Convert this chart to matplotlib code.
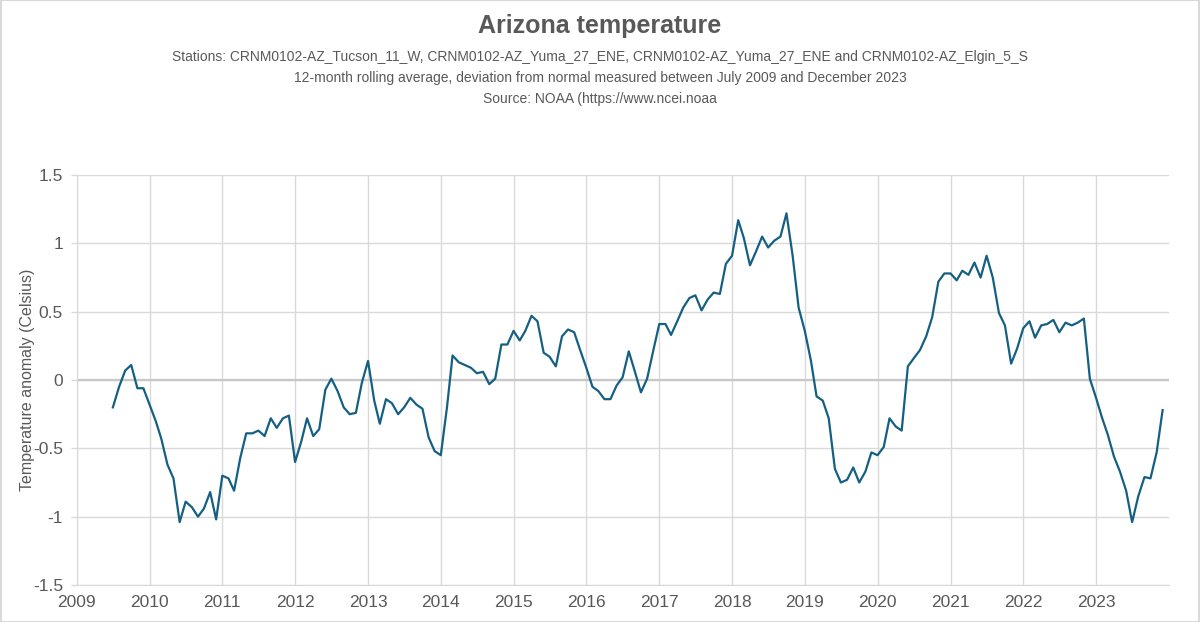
#!/usr/bin/env python3
"""
Arizona temperature: 12-month rolling average anomaly (NOAA CRN stations)
"""
import matplotlib
matplotlib.use('Agg')
import matplotlib.pyplot as plt
import matplotlib.dates as mdates
import pandas as pd
from matplotlib.patches import Rectangle

# monthly values, Jul 2009 .. Dec 2023
anom_2009 = [-0.20, -0.05, 0.07, 0.11, -0.06, -0.06]
anom_2010 = [-0.18, -0.30, -0.43, -0.62, -0.72, -1.04, -0.89, -0.93, -1.00, -0.94, -0.82, -1.02]
anom_2011 = [-0.70, -0.72, -0.81, -0.57, -0.39, -0.39, -0.37, -0.41, -0.28, -0.35, -0.28, -0.26]
anom_2012 = [-0.60, -0.45, -0.28, -0.41, -0.36, -0.07, 0.01, -0.08, -0.20, -0.25, -0.24, -0.02]
anom_2013 = [0.14, -0.15, -0.32, -0.14, -0.17, -0.25, -0.20, -0.13, -0.18, -0.21, -0.42, -0.52]
anom_2014 = [-0.55, -0.20, 0.18, 0.13, 0.11, 0.09, 0.05, 0.06, -0.03, 0.01, 0.26, 0.26]
anom_2015 = [0.36, 0.29, 0.36, 0.47, 0.43, 0.20, 0.17, 0.10, 0.32, 0.37, 0.35, 0.22]
anom_2016 = [0.09, -0.05, -0.08, -0.14, -0.14, -0.04, 0.02, 0.21, 0.06, -0.09, 0.01, 0.21]
anom_2017 = [0.41, 0.41, 0.33, 0.43, 0.53, 0.60, 0.62, 0.51, 0.59, 0.64, 0.63, 0.85]
anom_2018 = [0.91, 1.17, 1.04, 0.84, 0.94, 1.05, 0.97, 1.02, 1.05, 1.22, 0.91, 0.53]
anom_2019 = [0.36, 0.14, -0.12, -0.15, -0.28, -0.65, -0.75, -0.73, -0.64, -0.75, -0.67, -0.53]
anom_2020 = [-0.55, -0.49, -0.28, -0.34, -0.37, 0.10, 0.16, 0.22, 0.32, 0.46, 0.72, 0.78]
anom_2021 = [0.78, 0.73, 0.80, 0.77, 0.86, 0.75, 0.91, 0.75, 0.49, 0.40, 0.12, 0.23]
anom_2022 = [0.38, 0.43, 0.31, 0.40, 0.41, 0.44, 0.35, 0.42, 0.40, 0.42, 0.45, 0.01]
anom_2023 = [-0.13, -0.28, -0.40, -0.56, -0.67, -0.81, -1.04, -0.85, -0.71, -0.72, -0.53, -0.22]

start_month = '2009-07-01'
year_labels = list(range(2009, 2024))
y_ticks = [-1.5, -1, -0.5, 0, 0.5, 1, 1.5]

title = 'Arizona temperature'
subtitle_lines = [
    'Stations: CRNM0102-AZ_Tucson_11_W, CRNM0102-AZ_Yuma_27_ENE, '
    'CRNM0102-AZ_Yuma_27_ENE and CRNM0102-AZ_Elgin_5_S',
    '12-month rolling average, deviation from normal measured between '
    'July 2009 and December 2023',
    'Source: NOAA (https://www.ncei.noaa',
]

values = (anom_2009 + anom_2010 + anom_2011 + anom_2012 + anom_2013 + anom_2014
          + anom_2015 + anom_2016 + anom_2017 + anom_2018 + anom_2019 + anom_2020
          + anom_2021 + anom_2022 + anom_2023)
dates = pd.date_range(start_month, periods=len(values), freq='MS')

TEXT = '#595959'
GRID = '#d9d9d9'
LINE = '#156082'

plt.rcParams['font.family'] = ['Liberation Sans', 'DejaVu Sans']

fig = plt.figure(figsize=(12, 6.22), dpi=100)
ax = fig.add_axes([0.064, 0.0595, 0.91, 0.659])

ax.plot(dates, values, color=LINE, linewidth=1.6, zorder=3)

ax.set_xlim(pd.Timestamp('2009-01-01'), pd.Timestamp('2024-01-01'))
ax.set_ylim(-1.5, 1.5)
ax.set_xticks([pd.Timestamp(f'{y}-01-01') for y in year_labels])
ax.xaxis.set_major_formatter(mdates.DateFormatter('%Y'))
ax.set_yticks(y_ticks)
ax.set_yticklabels([f'{t:g}' for t in y_ticks])

ax.grid(True, color=GRID, linewidth=1.0)
ax.axhline(0, color='#c8c8c8', linewidth=1.6, zorder=2)
ax.set_axisbelow(True)
for side in ['top', 'right']:
    ax.spines[side].set_visible(False)
ax.spines['bottom'].set_color(GRID)
ax.spines['left'].set_color(GRID)
ax.tick_params(colors=TEXT, labelsize=12.5)
ax.tick_params(axis='x', length=0, pad=7)
ax.tick_params(axis='y', length=4, color=GRID, width=1.0, pad=6)

ax.set_ylabel('Temperature anomaly (Celsius)', color=TEXT, fontsize=11.5)
ax.yaxis.set_label_coords(-0.038, 0.5)

fig.text(0.5, 0.958, title, ha='center', va='center', fontsize=18,
         fontweight='bold', color=TEXT)
for i, line in enumerate(subtitle_lines):
    fig.text(0.5, 1 - (57 + 21 * i) / 622, line, ha='center', va='center',
             fontsize=10, color=TEXT)

# thin frame around the whole picture
fig.add_artist(Rectangle((0.0008, 0.0008), 0.9984, 0.9984, transform=fig.transFigure,
                         fill=False, edgecolor=GRID, linewidth=1.5))

fig.savefig('out.png', dpi=100)
plt.close(fig)
